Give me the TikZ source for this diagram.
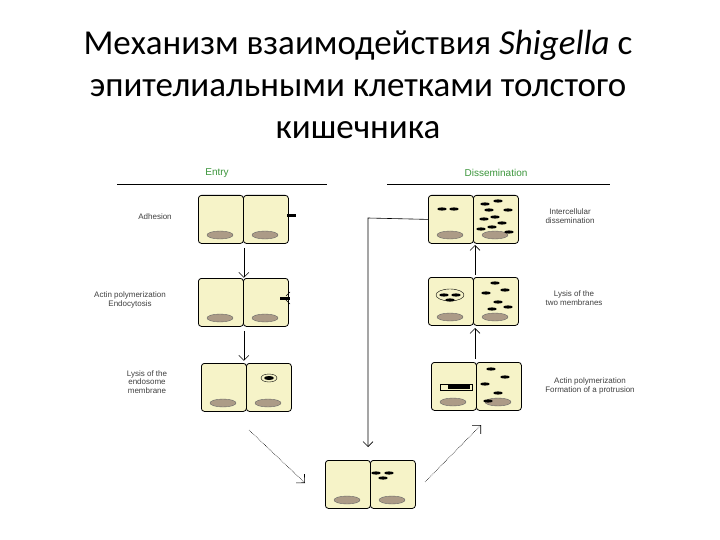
\documentclass[tikz,border=0pt]{standalone}
\usepackage{fontspec}
\setmainfont{Carlito}
\newfontfamily\lab{Liberation Sans}
\definecolor{cellc}{RGB}{246,243,200}
\definecolor{nuc}{RGB}{172,155,135}
\definecolor{hdr}{RGB}{60,150,60}
\tikzset{x=1pt,y=-1pt,
 cell/.style={draw,thick,fill=cellc,rounded corners=3pt,minimum width=45pt,minimum height=48pt,inner sep=0pt,anchor=north west},
 lbl/.style={font=\lab\fontsize{8}{8.5}\selectfont,text=black!75,align=center},
 conn/.style={-{Straight Barb[length=5pt]},semithick},
 diag/.style={-{Straight Barb[length=6pt]},semithick,densely dotted}}
\usetikzlibrary{arrows.meta}
\newcommand{\pairAt}[3]{%
 \node[cell] (#3a) at (#1,#2) {};
 \node[cell] (#3b) at (#1+45,#2) {};
 \fill[nuc,draw=black!60] (#1+22,#2+40) ellipse (13pt and 4pt);
 \fill[nuc,draw=black!60] (#1+67,#2+40) ellipse (13pt and 4pt);}
\newcommand{\bact}[2]{\fill (#1,#2) ellipse (4.8pt and 1.6pt);}
\begin{document}
\begin{tikzpicture}
\useasboundingbox[fill=white] (0,0) rectangle (720,540);
\node[font=\fontsize{35}{42}\selectfont,align=center] (title) at (358,84) {Механизм взаимодействия \textit{Shigella} с\\эпителиальными клетками толстого\\кишечника};
% headers
\node[font=\lab\fontsize{10}{10}\selectfont,text=hdr] (entry) at (217,173) {Entry};
\node[font=\lab\fontsize{10}{10}\selectfont,text=hdr] (diss) at (496,173) {Dissemination};
\draw (117,184) -- (327,184);
\draw (387,184) -- (610,184);
% left column
\pairAt{198}{195}{L1}
\pairAt{198}{278}{L2}
\pairAt{201}{363}{L3}
\fill (287,214) rectangle (296,217);
\fill (280,297) rectangle (290,300);
\draw (290,292) -- (286,296) (290,304) -- (286,300);
\fill (269,378) ellipse (5pt and 2pt);
\draw (269,378) ellipse (8pt and 4pt);
\node[lbl] (t1) at (155,217) {Adhesion};
\node[lbl] (t2) at (130,300) {Actin polymerization\\Endocytosis};
\node[lbl] (t3) at (147,382) {Lysis of the\\endosome\\membrane};
\draw[conn] (L1a.south east) ++(0,4) -- ++(0,30);
\draw[conn] (L2a.south east) ++(0,4) -- ++(0,30);
% right column
\pairAt{428}{195}{R1}
\pairAt{428}{277}{R2}
\pairAt{431}{362}{R3}
\bact{442}{209}\bact{454}{209}
\bact{485}{204}\bact{498}{201}\bact{489}{210}\bact{508}{210}
\bact{495}{217}\bact{484}{219}\bact{502}{223}\bact{492}{227}\bact{509}{232}\bact{481}{229}
\bact{444}{295}\bact{456}{295}\bact{450}{300}
\draw (450,295) ellipse (14pt and 6pt);
\bact{495}{283}\bact{505}{290}\bact{486}{293}\bact{498}{302}\bact{508}{307}\bact{492}{309}
\fill (448,385) rectangle (470,389);\draw (440,384) rectangle (472,390);
\bact{491}{369}\bact{505}{377}\bact{485}{384}\bact{498}{393}\bact{488}{401}
\node[lbl] (t4) at (570,216) {Intercellular\\dissemination};
\node[lbl] (t5) at (574,298) {Lysis of the\\two membranes};
\node[lbl] (t6) at (590,386) {Actin polymerization\\Formation of a protrusion};
\draw[conn] (475,359) -- (475,328);
\draw[conn] (475,275) -- (475,245);
% bottom
\pairAt{325}{460}{B}
\bact{376}{473}\bact{389}{473}\bact{383}{478}
\draw[conn] (R1a.west) -- (368,218) -- (368,447);
\coordinate (d1) at (249,430); \coordinate (d2) at (305,483);
\coordinate (d3) at (425,482); \coordinate (d4) at (481,425);
\draw[diag] (d1) -- (d2);
\draw[diag] (d3) -- (d4);
\end{tikzpicture}
\end{document}
